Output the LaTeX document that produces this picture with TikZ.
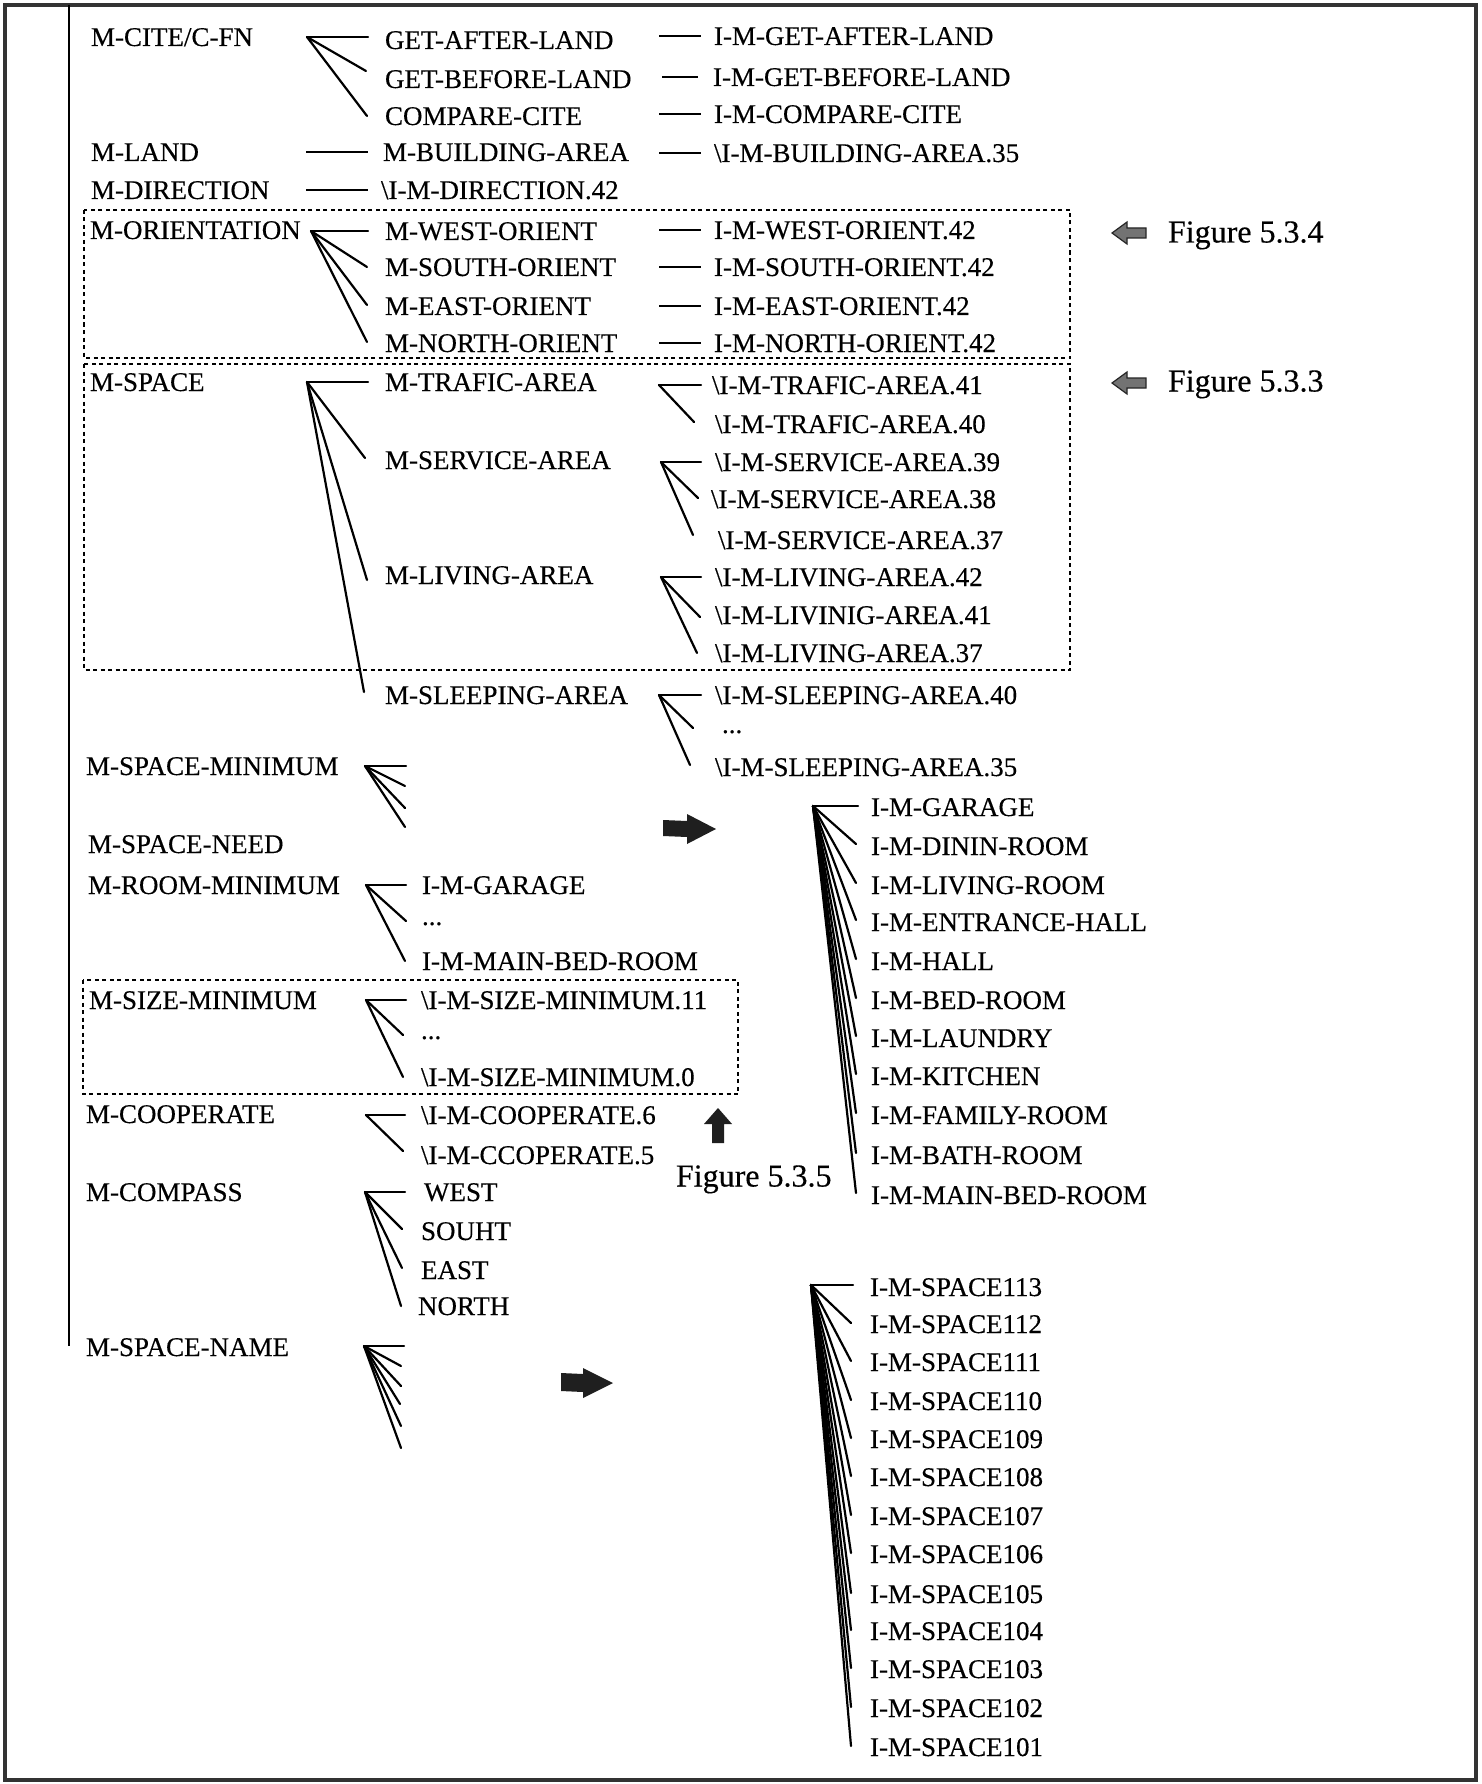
\documentclass[tikz,border=0pt]{standalone}
\usepackage{fontspec}
\setmainfont[FakeBold=0.35]{Liberation Serif}
\usetikzlibrary{calc}
\newcommand{\bs}{\textbackslash}
\begin{document}
\begin{tikzpicture}[x=1pt,y=-1pt,
  lab/.style={anchor=west,inner sep=0pt,outer sep=0pt,text height=18pt,text depth=0pt,font=\fontsize{27}{30}\selectfont},
  figlab/.style={anchor=west,inner sep=0pt,outer sep=0pt,text height=21pt,text depth=0pt,font=\fontsize{32}{36}\selectfont},
  fan/.style={line width=2.2pt,line cap=round},
  rulelink/.style={line width=2.2pt},
  dbox/.style={line width=2pt,dash pattern=on 4pt off 3.5pt},
  blockarrow/.style={fill=black!88},
  grayarrow/.style={fill=black!55,draw=black!85,line width=1.2pt,line join=miter}]

\useasboundingbox (0,0) rectangle (1481,1784);
\fill[white] (0,0) rectangle (1481,1784);

% outer frame and trunk line
\draw[line width=3.5pt,black!80] (5,5) rectangle (1476,1780);
\draw[line width=2pt] (69,5) -- (69,1346);

% dashed groups
\draw[dbox] (84,210) rectangle (1070,358);
\draw[dbox] (84,364) rectangle (1070,670);
\draw[dbox] (83,980) rectangle (738,1094);

% ---------- first column ----------
\node[lab] (cite)    at (91,37)   {M-CITE/C-FN};
\node[lab] (land)    at (91,152)  {M-LAND};
\node[lab] (dir)     at (91,190)  {M-DIRECTION};
\node[lab] (orient)  at (90,230)  {M-ORIENTATION};
\node[lab] (space)   at (90,382)  {M-SPACE};
\node[lab] (spmin)   at (86,766)  {M-SPACE-MINIMUM};
\node[lab] (spneed)  at (88,844)  {M-SPACE-NEED};
\node[lab] (roommin) at (88,885)  {M-ROOM-MINIMUM};
\node[lab] (sizemin) at (89,1000) {M-SIZE-MINIMUM};
\node[lab] (coop)    at (86,1114) {M-COOPERATE};
\node[lab] (compass) at (86,1192) {M-COMPASS};
\node[lab] (spname)  at (86,1347) {M-SPACE-NAME};

% ---------- second column ----------
\node[lab] (gal)      at (385,40)  {GET-AFTER-LAND};
\node[lab] (gbl)      at (385,79)  {GET-BEFORE-LAND};
\node[lab] (cmp)      at (385,116) {COMPARE-CITE};
\node[lab] (bld)      at (383,152) {M-BUILDING-AREA};
\node[lab] (idir)     at (381,190) {\bs I-M-DIRECTION.42};
\node[lab] (west)     at (385,231) {M-WEST-ORIENT};
\node[lab] (south)    at (385,267) {M-SOUTH-ORIENT};
\node[lab] (east)     at (385,306) {M-EAST-ORIENT};
\node[lab] (north)    at (385,343) {M-NORTH-ORIENT};
\node[lab] (trafic)   at (385,382) {M-TRAFIC-AREA};
\node[lab] (service)  at (385,460) {M-SERVICE-AREA};
\node[lab] (living)   at (385,575) {M-LIVING-AREA};
\node[lab] (sleeping) at (385,695) {M-SLEEPING-AREA};

% ---------- third column ----------
\node[lab] (igal)   at (714,36)  {I-M-GET-AFTER-LAND};
\node[lab] (igbl)   at (713,77)  {I-M-GET-BEFORE-LAND};
\node[lab] (icmp)   at (714,114) {I-M-COMPARE-CITE};
\node[lab] (ibld)   at (714,153) {\bs I-M-BUILDING-AREA.35};
\node[lab] (iwest)  at (714,230) {I-M-WEST-ORIENT.42};
\node[lab] (isouth) at (714,267) {I-M-SOUTH-ORIENT.42};
\node[lab] (ieast)  at (714,306) {I-M-EAST-ORIENT.42};
\node[lab] (inorth) at (714,343) {I-M-NORTH-ORIENT.42};
\node[lab] (itr41)  at (712,385) {\bs I-M-TRAFIC-AREA.41};
\node[lab] (itr40)  at (715,424) {\bs I-M-TRAFIC-AREA.40};
\node[lab] (isv39)  at (715,462) {\bs I-M-SERVICE-AREA.39};
\node[lab] (isv38)  at (711,499) {\bs I-M-SERVICE-AREA.38};
\node[lab] (isv37)  at (718,540) {\bs I-M-SERVICE-AREA.37};
\node[lab] (ilv42)  at (715,577) {\bs I-M-LIVING-AREA.42};
\node[lab] (ilv41)  at (715,615) {\bs I-M-LIVINIG-AREA.41};
\node[lab] (ilv37)  at (715,653) {\bs I-M-LIVING-AREA.37};
\node[lab] (isl40)  at (715,695) {\bs I-M-SLEEPING-AREA.40};
\node[lab] (isldot) at (722,724) {...};
\node[lab] (isl35)  at (715,767) {\bs I-M-SLEEPING-AREA.35};

% ---------- children of the lower first-column items ----------
\node[lab] (rmgar)  at (422,885)  {I-M-GARAGE};
\node[lab] (rmdot)  at (422,916)  {...};
\node[lab] (rmmain) at (422,961)  {I-M-MAIN-BED-ROOM};
\node[lab] (sz11)   at (421,1000) {\bs I-M-SIZE-MINIMUM.11};
\node[lab] (szdot)  at (421,1030) {...};
\node[lab] (sz0)    at (421,1077) {\bs I-M-SIZE-MINIMUM.0};
\node[lab] (cp6)    at (421,1115) {\bs I-M-COOPERATE.6};
\node[lab] (cp5)    at (421,1155) {\bs I-M-CCOPERATE.5};
\node[lab] (cw)     at (424,1192) {WEST};
\node[lab] (cs)     at (421,1231) {SOUHT};
\node[lab] (ce)     at (421,1270) {EAST};
\node[lab] (cn)     at (418,1306) {NORTH};

% ---------- room list ----------
\foreach \n/\t/\y in {r1/I-M-GARAGE/807, r2/I-M-DININ-ROOM/846, r3/I-M-LIVING-ROOM/885,
    r4/I-M-ENTRANCE-HALL/922, r5/I-M-HALL/961, r6/I-M-BED-ROOM/1000, r7/I-M-LAUNDRY/1038,
    r8/I-M-KITCHEN/1076, r9/I-M-FAMILY-ROOM/1115, r10/I-M-BATH-ROOM/1155, r11/I-M-MAIN-BED-ROOM/1195}
  \node[lab] (\n) at (871,\y) {\t};

% ---------- space list ----------
\foreach \n/\y in {113/1287, 112/1324, 111/1362, 110/1401, 109/1439, 108/1477, 107/1516,
    106/1554, 105/1594, 104/1631, 103/1669, 102/1708, 101/1747}
  \node[lab] (s\n) at (870,\y) {I-M-SPACE\n};

% ---------- figure references ----------
\node[figlab] (fig534) at (1168,232)  {Figure 5.3.4};
\node[figlab] (fig533) at (1168,381)  {Figure 5.3.3};
\node[figlab] (fig535) at (676,1176)  {Figure 5.3.5};

% ---------- fan vertices ----------
\coordinate (vcite)    at (307,37);
\coordinate (vorient)  at (311,231);
\coordinate (vspace)   at (307,382);
\coordinate (vtrafic)  at (659,385);
\coordinate (vservice) at (661,462);
\coordinate (vliving)  at (661,577);
\coordinate (vsleep)   at (659,695);
\coordinate (vspmin)   at (365,766);
\coordinate (vroom)    at (366,885);
\coordinate (vsize)    at (366,1000);
\coordinate (vcoop)    at (366,1115);
\coordinate (vcompass) at (365,1192);
\coordinate (vspname)  at (364,1346);
\coordinate (vrooms)   at (813,806);
\coordinate (vspaces)  at (811,1285);

% free ends of the unlabeled fans
\coordinate (sm1) at (406,766);
\coordinate (sm2) at (405,786);
\coordinate (sm3) at (405,808);
\coordinate (sm4) at (405,827);
\coordinate (sn1) at (404,1346);
\coordinate (sn2) at (401,1366);
\coordinate (sn3) at (401,1386);
\coordinate (sn4) at (400,1404);
\coordinate (sn5) at (401,1426);
\coordinate (sn6) at (401,1448);

% ---------- fans ----------
\draw[fan] (vcite) -- ($(vcite -| gal.west)+(-17,0)$);
\draw[fan] (vcite) -- ($(gbl.west)+(-19,-8)$);
\draw[fan] (vcite) -- ($(cmp.west)+(-18,0)$);

\draw[fan] (vorient) -- ($(vorient -| west.west)+(-17,0)$);
\draw[fan] (vorient) -- ($(south.west)+(-18,0)$);
\draw[fan] (vorient) -- ($(east.west)+(-18,-1)$);
\draw[fan] (vorient) -- ($(north.west)+(-18,-1)$);

\draw[fan] (vspace) -- ($(vspace -| trafic.west)+(-17,0)$);
\draw[fan] (vspace) -- ($(service.west)+(-20,-2)$);
\draw[fan] (vspace) -- ($(living.west)+(-18,5)$);
\draw[fan] (vspace) -- ($(sleeping.west)+(-21,-3)$);

\draw[fan] (vtrafic) -- ($(vtrafic -| itr41.west)+(-11,0)$);
\draw[fan] (vtrafic) -- ($(itr40.west)+(-21,-2)$);

\draw[fan] (vservice) -- ($(vservice -| isv39.west)+(-14,0)$);
\draw[fan] (vservice) -- ($(isv38.west)+(-13,-1)$);
\draw[fan] (vservice) -- ($(isv37.west)+(-25,-5)$);

\draw[fan] (vliving) -- ($(vliving -| ilv42.west)+(-14,0)$);
\draw[fan] (vliving) -- ($(ilv41.west)+(-15,2)$);
\draw[fan] (vliving) -- ($(ilv37.west)+(-18,0)$);

\draw[fan] (vsleep) -- ($(vsleep -| isl40.west)+(-14,0)$);
\draw[fan] (vsleep) -- ($(isldot.west)+(-29,4)$);
\draw[fan] (vsleep) -- ($(isl35.west)+(-25,-2)$);

\foreach \e in {sm1,sm2,sm3,sm4} \draw[fan] (vspmin) -- (\e);

\draw[fan] (vroom) -- ($(vroom -| rmgar.west)+(-16,0)$);
\draw[fan] (vroom) -- ($(rmdot.west)+(-16,5)$);
\draw[fan] (vroom) -- ($(rmmain.west)+(-17,0)$);

\draw[fan] (vsize) -- ($(vsize -| sz11.west)+(-15,0)$);
\draw[fan] (vsize) -- ($(szdot.west)+(-18,5)$);
\draw[fan] (vsize) -- ($(sz0.west)+(-18,0)$);

\draw[fan] (vcoop) -- ($(vcoop -| cp6.west)+(-16,0)$);
\draw[fan] (vcoop) -- ($(cp5.west)+(-18,-4)$);

\draw[fan] (vcompass) -- ($(vcompass -| cw.west)+(-19,0)$);
\draw[fan] (vcompass) -- ($(cs.west)+(-19,-2)$);
\draw[fan] (vcompass) -- ($(ce.west)+(-19,-2)$);
\draw[fan] (vcompass) -- ($(cn.west)+(-17,0)$);

\foreach \e in {sn1,sn2,sn3,sn4,sn5,sn6} \draw[fan] (vspname) -- (\e);

\draw[fan] (vrooms) -- ($(vrooms -| r1.west)+(-13,0)$);
\foreach \n in {r2,r3,r4,r5,r6,r7,r8,r9,r10,r11}
  \draw[fan] (vrooms) -- ($(\n.west)+(-15,-2)$);

\draw[fan] (vspaces) -- ($(vspaces -| s113.west)+(-17,0)$);
\foreach \n in {112,111,110,109,108,107,106,105,104,103,102,101}
  \draw[fan] (vspaces) -- ($(s\n.west)+(-19,-1)$);

% ---------- single links ----------
\draw[rulelink] ($(land.west)+(215,0)$) -- ($(bld.west)+(-15,0)$);
\draw[rulelink] ($(dir.west)+(215,0)$) -- ($(idir.west)+(-13,0)$);
\draw[rulelink] ($(igal.west)+(-55,0)$) -- ($(igal.west)+(-13,0)$);
\draw[rulelink] ($(igbl.west)+(-51,0)$) -- ($(igbl.west)+(-15,0)$);
\draw[rulelink] ($(icmp.west)+(-55,0)$) -- ($(icmp.west)+(-13,0)$);
\draw[rulelink] ($(ibld.west)+(-55,0)$) -- ($(ibld.west)+(-13,0)$);
\draw[rulelink] ($(iwest.west)+(-55,0)$) -- ($(iwest.west)+(-13,0)$);
\draw[rulelink] ($(isouth.west)+(-55,0)$) -- ($(isouth.west)+(-13,0)$);
\draw[rulelink] ($(ieast.west)+(-55,0)$) -- ($(ieast.west)+(-13,0)$);
\draw[rulelink] ($(inorth.west)+(-55,0)$) -- ($(inorth.west)+(-13,0)$);

% ---------- pointer arrows ----------
% grey arrows pointing back at the dashed groups
\draw[grayarrow] ($(fig534.west)+(-56,1)$) -- ++(15,-11) -- ++(0,6) -- ++(19,0) -- ++(0,10)
  -- ++(-19,0) -- ++(0,6) -- cycle;
\draw[grayarrow] ($(fig533.west)+(-56,2)$) -- ++(15,-11) -- ++(0,6) -- ++(19,0) -- ++(0,10)
  -- ++(-19,0) -- ++(0,6) -- cycle;
% up arrow under the size group
\fill[blockarrow] ($(fig535.west)+(42,-68)$) -- ++(14,16) -- ++(-8,0) -- ++(0,19) -- ++(-12,0)
  -- ++(0,-19) -- ++(-8,0) -- cycle;
% dark arrows leading to the room and space lists
\fill[blockarrow] ($(vrooms)+(-150,14)$) -- ++(24,1) -- ++(0,-7) -- ++(29,15) -- ++(-29,15)
  -- ++(0,-7) -- ++(-24,-1) -- cycle;
\fill[blockarrow] ($(vspaces)+(-250,88)$) -- ++(22,1) -- ++(0,-6) -- ++(30,15) -- ++(-30,15)
  -- ++(0,-6) -- ++(-22,-1) -- cycle;
\end{tikzpicture}
\end{document}
